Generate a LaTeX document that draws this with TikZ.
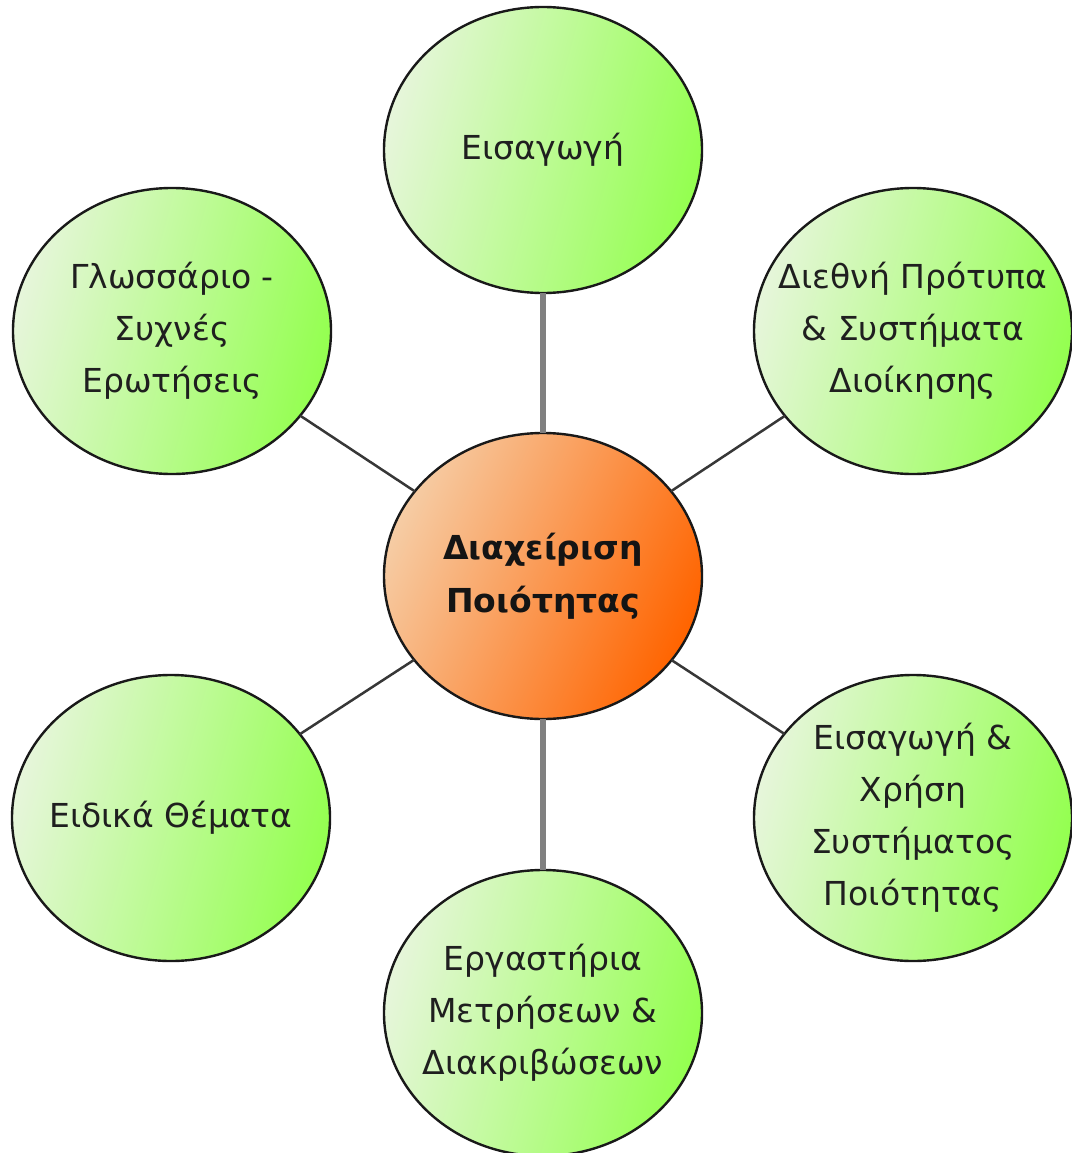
\documentclass[tikz,border=0pt]{standalone}
\usepackage{fontspec}
\setmainfont{DejaVu Sans}
\usetikzlibrary{shapes.geometric}

\definecolor{leafpale}{RGB}{230,246,218}
\definecolor{leafmid}{RGB}{186,246,150}
\definecolor{leafdeep}{RGB}{148,255,80}
\definecolor{hubpale}{RGB}{246,204,164}
\definecolor{hubmid}{RGB}{251,140,62}
\definecolor{hubdeep}{RGB}{255,100,0}
\definecolor{rimcol}{RGB}{25,25,25}
\definecolor{spokegray}{RGB}{128,128,128}
\definecolor{spokedark}{RGB}{55,55,55}

\begin{document}
\begin{tikzpicture}[x=1pt,y=-1pt,
  bubble/.style={ellipse, minimum width=318pt, minimum height=286pt,
    inner sep=0pt, outer sep=0pt, draw=rimcol, line width=2.4pt},
  leaf/.style={bubble, top color=leafpale, middle color=leafmid,
    bottom color=leafdeep, shading angle=75},
  hub/.style={bubble, top color=hubpale, middle color=hubmid,
    bottom color=hubdeep, shading angle=65},
  caption/.style={align=center, text=black!88,
    font=\fontsize{33}{52}\selectfont},
  hubcaption/.style={caption, text=black!92, font=\fontsize{33}{53}\selectfont\bfseries},
  vspoke/.style={draw=spokegray, line width=6pt},
  dspoke/.style={draw=spokedark, line width=2.5pt}]

\useasboundingbox (0,0) rectangle (1071,1153);

% hub
\node[hub, label={[hubcaption]center:Διαχείριση\\Ποιότητας}] (hub) at (543,576) {};

% surrounding topics
\node[leaf, label={[caption]center:Εισαγωγή}] (intro) at (543,150) {};
\node[leaf, label={[caption]center:Διεθνή Πρότυπα\\\& Συστήματα\\Διοίκησης}] (standards) at (913,331) {};
\node[leaf, label={[caption]center:Εισαγωγή \&\\Χρήση\\Συστήματος\\Ποιότητας}] (usage) at (913,818) {};
\node[leaf, label={[caption]center:Εργαστήρια\\Μετρήσεων \&\\Διακριβώσεων}] (labs) at (543,1013) {};
\node[leaf, label={[caption]center:Ειδικά Θέματα}] (special) at (171,818) {};
\node[leaf, label={[caption]center:Γλωσσάριο -\\Συχνές\\Ερωτήσεις}] (glossary) at (172,331) {};

% spokes
\draw[vspoke] (hub) -- (intro);
\draw[vspoke] (hub) -- (labs);
\draw[dspoke] (hub) -- (standards);
\draw[dspoke] (hub) -- (usage);
\draw[dspoke] (hub) -- (special);
\draw[dspoke] (hub) -- (glossary);
\end{tikzpicture}
\end{document}
